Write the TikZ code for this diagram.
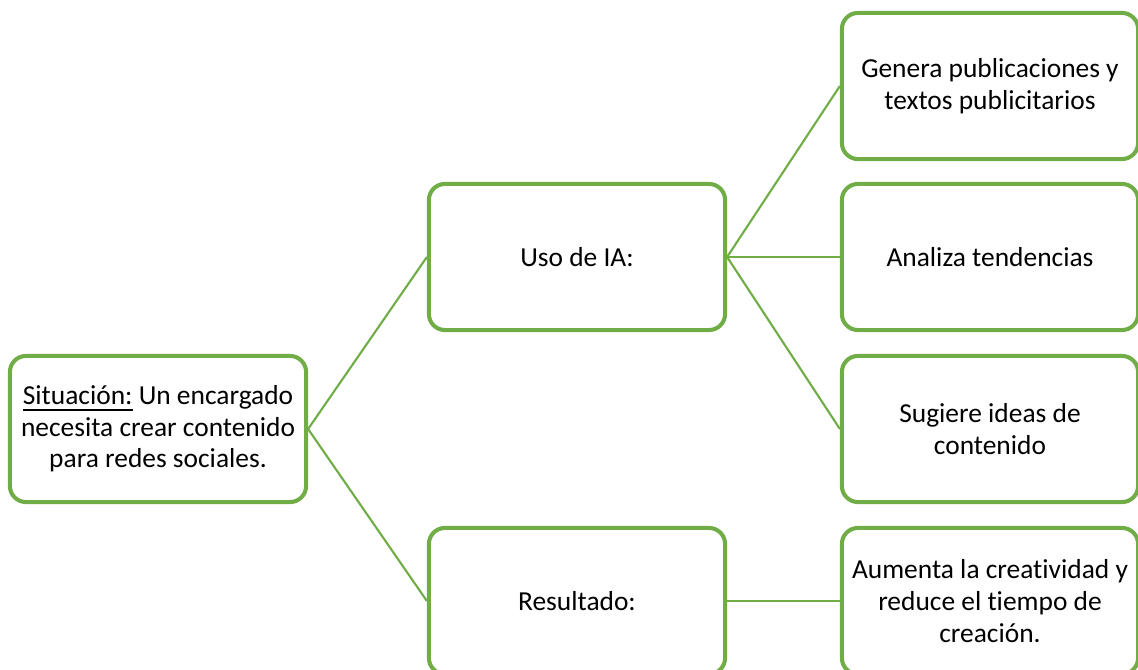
\documentclass[tikz,border=0pt]{standalone}
\usepackage{fontspec}
\setmainfont[Ligatures=NoCommon]{Carlito}
\usepackage{xcolor}
\definecolor{boxgreen}{HTML}{70AD47}

\begin{document}
\begin{tikzpicture}[x=0.01cm,y=-0.01cm,
  card/.style={draw=boxgreen,line width=1.15pt,rounded corners=0.16cm,fill=white,
    minimum width=2.96cm,minimum height=1.46cm,align=center,
    inner sep=0pt,font=\fontsize{7.8}{9.0}\selectfont},
  link/.style={draw=boxgreen,line width=0.6pt}]
  \useasboundingbox (0,0) rectangle (1138,670);
  \clip (0,0) rectangle (1138,670);
  % left column
  \node[card] (situacion) at (158,429) {\underline{Situación:} Un encargado\\necesita crear contenido\\para redes sociales.};
  % middle column
  \node[card] (uso) at (577,257) {Uso de IA:};
  \node[card] (resultado) at (577,601) {Resultado:};
  % right column
  \node[card] (genera) at (990,86) {Genera publicaciones y\\textos publicitarios};
  \node[card] (analiza) at (990,257) {Analiza tendencias};
  \node[card] (sugiere) at (990,429) {Sugiere ideas de\\contenido};
  \node[card] (aumenta) at (990,601) {Aumenta la creatividad y\\reduce el tiempo de\\creación.};
  % connectors
  \draw[link] (situacion.east) -- (uso.west);
  \draw[link] (situacion.east) -- (resultado.west);
  \draw[link] (uso.east) -- (genera.west);
  \draw[link] (uso.east) -- (analiza.west);
  \draw[link] (uso.east) -- (sugiere.west);
  \draw[link] (resultado.east) -- (aumenta.west);
\end{tikzpicture}
\end{document}
